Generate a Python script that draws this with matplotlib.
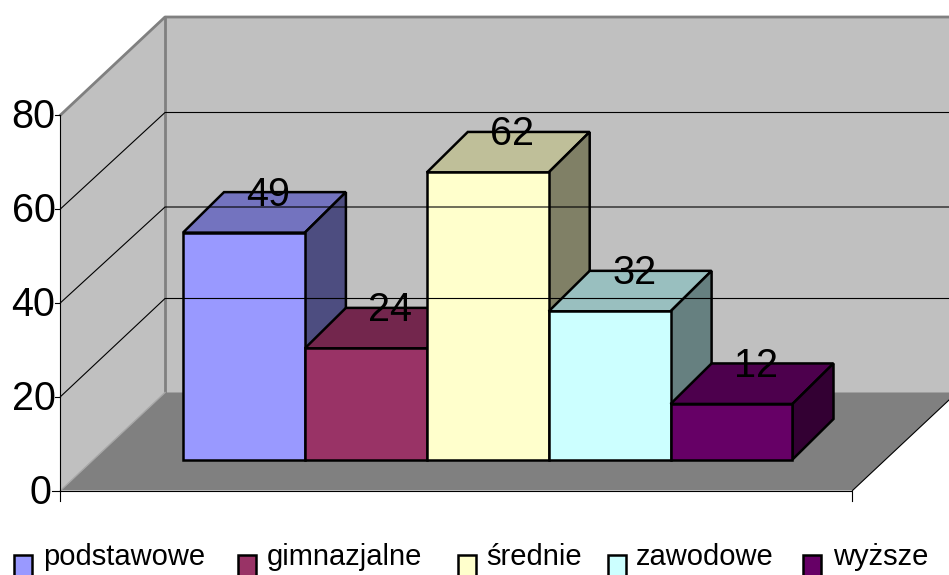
#!/usr/bin/env python3
"""Excel style 3D column chart, drawn by hand with polygons in pixel space."""
import matplotlib
matplotlib.use('Agg')
import matplotlib.pyplot as plt
from matplotlib.colors import to_rgb
from matplotlib.patches import Polygon, Rectangle

categories = ['podstawowe', 'gimnazjalne', 'średnie', 'zawodowe', 'wyższe']
values = [49, 24, 62, 32, 12]
colors = ['#9999FF', '#993366', '#FFFFCC', '#CCFFFF', '#660066']
y_ticks = [0, 20, 40, 60, 80]

# layout of the fake 3D box, in pixels
W, H = 949, 575
X0, X1 = 60.5, 852.5
Y0, Y80 = 490.5, 115.0
DX, DY = 104.5, -98.0
BACK_GRID_Y = [392.5, 298.5, 207.0, 112.5, 18.0]
BAR_X0 = 183.0
BAR_W = 121.9
BAR_BASE = 459.5
BAR_DX, BAR_DY = 41.0, -40.5
BAR_SCALE = 4.63
LEGEND_SWATCH_X = [14.5, 238.5, 458.5, 608.5, 803.5]
LEGEND_TEXT_X = [43, 267, 486, 636, 833]

plt.rcParams['font.family'] = ['Liberation Sans', 'DejaVu Sans']


def val_y(v):
    return Y0 - (Y0 - Y80) * v / 80.0


def shade(color, f):
    return tuple(c * f for c in to_rgb(color))


fig = plt.figure(figsize=(W / 100, H / 100), dpi=100)
ax = fig.add_axes([0, 0, 1, 1])
ax.set_xlim(0, W)
ax.set_ylim(H, 0)
ax.axis('off')

# walls and floor
ax.add_patch(Polygon([(X0 + DX, val_y(0) + DY), (X1 + DX, val_y(0) + DY), (X1 + DX, val_y(80) + DY), (X0 + DX, val_y(80) + DY)],
                     fc='#C0C0C0', ec='none'))
ax.add_patch(Polygon([(X0, val_y(0)), (X0 + DX, val_y(0) + DY), (X0 + DX, val_y(80) + DY), (X0, val_y(80))],
                     fc='#C0C0C0', ec='none'))
ax.add_patch(Polygon([(X0, Y0), (X1, Y0), (X1 + DX, Y0 + DY), (X0 + DX, Y0 + DY)], fc='#808080', ec='none'))

# wall borders
ax.plot([X0, X0 + DX, X1 + DX], [val_y(80), val_y(80) + DY, val_y(80) + DY], color='#808080', lw=2.0)
ax.plot([X0 + DX, X0 + DX], [val_y(80) + DY, Y0 + DY], color='#808080', lw=2.0)
ax.plot([X0, X0 + DX], [Y0, Y0 + DY], color='#A8A8A8', lw=1.0)

# gridlines on the walls
for v, back_y in zip(y_ticks[1:-1], BACK_GRID_Y[1:-1]):
    y = val_y(v)
    ax.plot([X0, X0 + DX, X1 + DX], [y, back_y, back_y], color='black', lw=0.8)

# axes lines and ticks
ax.plot([X0, X0], [val_y(80), Y0 + 10], color='black', lw=0.8)
ax.plot([X0, X1, X1], [Y0, Y0, Y0 + 10], color='black', lw=0.8)
ax.plot([X1, X1 + DX], [Y0, Y0 + DY], color='black', lw=0.8)
for v in y_ticks:
    y = val_y(v)
    ax.plot([X0 - 8 if v == 0 else X0 - 5, X0], [y, y], color='black', lw=0.8)
    ax.text(51 if v == 0 else 55.5, y + 13, str(v), fontsize=28.5, ha='right', va='baseline')

# bars, left to right so the next one covers the previous side
for i, (v, c) in enumerate(zip(values, colors)):
    xl = BAR_X0 + i * BAR_W
    xr = xl + BAR_W
    yt = BAR_BASE - v * BAR_SCALE
    top = [(xl, yt), (xr, yt), (xr + BAR_DX, yt + BAR_DY), (xl + BAR_DX, yt + BAR_DY)]
    side = [(xr, BAR_BASE), (xr + BAR_DX, BAR_BASE + BAR_DY), (xr + BAR_DX, yt + BAR_DY), (xr, yt)]
    front = [(xl, BAR_BASE), (xr, BAR_BASE), (xr, yt), (xl, yt)]
    ax.add_patch(Polygon(top, fc=shade(c, 0.75), ec='black', lw=1.8, joinstyle='miter'))
    ax.add_patch(Polygon(side, fc=shade(c, 0.5), ec='black', lw=1.8, joinstyle='miter'))
    ax.add_patch(Polygon(front, fc=c, ec='black', lw=1.8, joinstyle='miter'))

# data labels sit on the back edge of the top face
for i, v in enumerate(values):
    xc = BAR_X0 + (i + 0.5) * BAR_W + 24.5
    yt = BAR_BASE - v * BAR_SCALE + BAR_DY
    ax.text(xc, yt + 13.5, str(v), fontsize=28.5, ha='center', va='baseline')

# legend, runs off the bottom of the picture like the original
for name, c, sx, tx in zip(categories, colors, LEGEND_SWATCH_X, LEGEND_TEXT_X):
    ax.add_patch(Rectangle((sx, 554.5), 18, 30, fc=c, ec='black', lw=1.8))
    ax.text(tx, 565, name, fontsize=21, ha='left', va='baseline')

fig.savefig('out.png', dpi=100)
plt.close(fig)
